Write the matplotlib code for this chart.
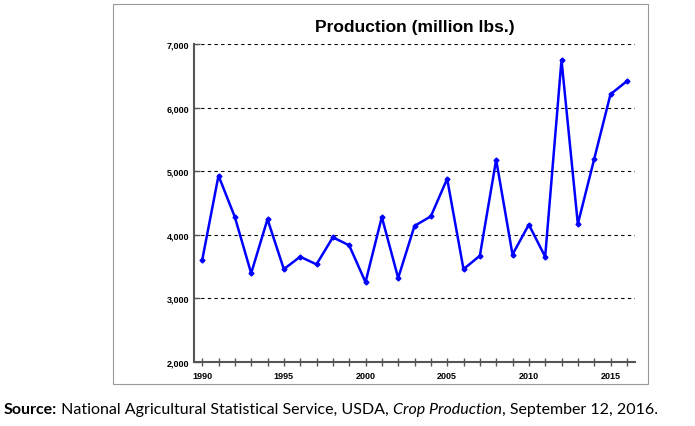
import matplotlib.pyplot as plt
from matplotlib.patches import Rectangle

plt.rcParams['font.family'] = ['Liberation Sans', 'DejaVu Sans']

years = list(range(1990, 2017))
production = [3600, 4930, 4280, 3395, 4245, 3460, 3655, 3535, 3960, 3835,
              3255, 4280, 3320, 4140, 4290, 4880, 3460, 3670, 5180, 3690,
              4160, 3655, 6750, 4170, 5190, 6210, 6415]

W, H = 695, 427
fig = plt.figure(figsize=(W / 100, H / 100), dpi=100)

# outer frame of the chart
fig.patches.append(Rectangle((113 / W, 1 - 385 / H), (648 - 113) / W, (385 - 5) / H,
                             transform=fig.transFigure, fill=False, ec='#999999', lw=0.8))

ax = fig.add_axes([194 / W, 1 - 363 / H, (635 - 194) / W, (363 - 45) / H])
ax.plot(years, production, color='#0000ff', lw=1.8, marker='D', ms=2.5)
ax.set_xlim(1989.5, 2016.5)
ax.set_ylim(2000, 7000)
ax.set_yticks(range(2000, 7001, 1000))
ax.set_yticklabels([f'{v:,}' for v in range(2000, 7001, 1000)], fontsize=6.5, fontweight='bold')
ax.set_xticks(years)
ax.set_xticklabels([str(y) if y % 5 == 0 else '' for y in years], fontsize=6.5, fontweight='bold')
ax.tick_params(length=4, width=1, color='#555555', direction='in')
ax.tick_params(axis='x', direction='inout', length=6)
ax.grid(axis='y', ls=(0, (3, 3)), color='black', lw=0.8)
for s in ['top', 'right']:
    ax.spines[s].set_visible(False)
for s in ['left', 'bottom']:
    ax.spines[s].set_color('#555555')
    ax.spines[s].set_linewidth(1.5)
ax.set_title('Production (million lbs.)', fontsize=12.5, fontweight='bold', pad=9)

# source line, built from pieces
ys = 1 - 410 / H
fs = 11.5
parts = [('Source:', 'bold', 'normal'),
         (' National Agricultural Statistical Service, USDA, ', 'normal', 'normal'),
         ('Crop Production', 'normal', 'italic'),
         (', September 12, 2016.', 'normal', 'normal')]
x = 4 / W
for txt, wt, st in parts:
    t = fig.text(x, ys, txt, fontsize=fs, fontweight=wt, style=st, va='center', family='Lato')
    fig.canvas.draw()
    x = t.get_window_extent().x1 / W

fig.savefig('out.png', dpi=100)
